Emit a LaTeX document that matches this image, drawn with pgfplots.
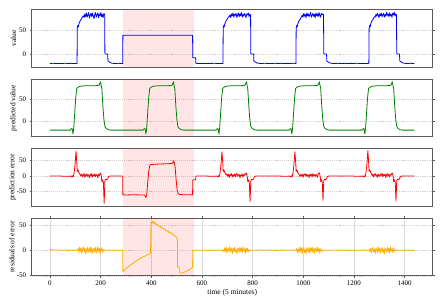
\documentclass[border=0pt]{standalone}
\usepackage{fontspec}
\setmainfont{Liberation Serif}
\usepackage{pgfplots}
\pgfplotsset{compat=1.18}
\definecolor{cblue}{RGB}{0,0,255}
\definecolor{cgreen}{RGB}{0,128,0}
\definecolor{cred}{RGB}{255,0,0}
\definecolor{corange}{RGB}{255,173,0}
\definecolor{frame}{RGB}{90,90,90}
\pgfplotsset{
 panel/.style={width=401pt,height=57.3pt,scale only axis,xmin=-72,xmax=1511,
  axis line style={frame,line width=0.7pt},tick style={frame,line width=0.5pt},
  tick align=outside,major tick length=2pt,ytick={-50,0,50},ymajorgrids,
  major grid style={gray!35,dash pattern=on 1.2pt off 0.9pt,line width=0.4pt},
  every tick label/.append style={font=\fontsize{7}{8}\selectfont},
  label style={font=\fontsize{7.5}{9}\selectfont},
  /pgf/number format/assume math mode=true,/pgf/number format/1000 sep={},anchor=south west,
  xtick=\empty},
 shadeplot/.style={draw=none,fill=red,fill opacity=0.1,forget plot},
 dline/.style={line width=0.8pt,line join=round},
}
\begin{document}
\begin{tikzpicture}
\useasboundingbox (0,0) rectangle (443pt,295pt);
% ---------- panel 1: value
\begin{axis}[panel,at={(31.7pt,228pt)},ymin=-28,ymax=95,ylabel={value},ylabel style={at={(axis description cs:-0.0454,0.5)},anchor=center}]
\addplot[shadeplot] coordinates {(287,-28)(567,-28)(567,95)(287,95)};
\addplot[cblue,dline] coordinates {
(0,-20.5)(12,-20)(24,-20.8)(36,-20.2)(48,-20.6)(60,-19.9)(72,-20.4)(84,-20.1)(96,-20.7)(107,-20.2)
(108,55)(110,61)(112,58)(114,64)(117,68)(120,72)(123,74)(126,77)(129,80)
(132,82)(135,78)(138,86)(141,80)(144,88)(147,79)(150,84)(153,89)(156,77)(159,83)(162,87)(165,80)(168,88)(171,81)(174,76)(177,85)(180,89)(183,79)(186,84)(189,88)(192,78)(195,86)(198,82)(201,89)(204,80)(207,85)(210,78)(213,87)
(216,84)(217,0)(228,0)(229,-15)(234,-17)(240,-19)(246,-20)(258,-20.6)(270,-20.1)(287,-20.4)
(288,40)(563,40)(564,-8)(575,-8)
(576,-20)(588,-20.6)(600,-20.1)(612,-20.7)(624,-20.2)(636,-20.5)(648,-19.9)(660,-20.4)(672,-20.2)(683,-20.6)
(684,55)(686,61)(688,58)(690,64)(693,68)(696,72)(699,74)(702,77)(705,80)
(708,80)(711,84)(714,78)(717,86)(720,82)(723,88)(726,79)(729,85)(732,83)(735,87)(738,78)(741,84)(744,88)(747,80)(750,86)(753,82)(756,89)(759,79)(762,85)(765,81)(768,87)(771,83)(774,78)(777,86)(780,84)(783,88)(786,80)(789,85)
(792,84)(793,0)(804,0)(805,-15)(810,-17)(816,-19)(822,-20)(834,-20.5)(846,-20)(863,-20.4)
(864,-20.2)(876,-20.6)(888,-20)(900,-20.5)(912,-20.1)(924,-20.7)(936,-20.2)(948,-20.5)(960,-20)(971,-20.4)
(972,55)(974,61)(976,58)(978,64)(981,68)(984,72)(987,74)(990,77)(993,80)
(996,83)(999,79)(1002,87)(1005,81)(1008,85)(1011,78)(1014,88)(1017,82)(1020,86)(1023,80)(1026,84)(1029,89)(1032,79)(1035,83)(1038,87)(1041,81)(1044,85)(1047,78)(1050,88)(1053,82)(1056,86)(1059,80)(1062,89)(1065,83)(1068,79)(1071,87)(1074,84)(1077,86)
(1080,84)(1081,0)(1092,0)(1093,-15)(1098,-17)(1104,-19)(1110,-20)(1122,-20.6)(1134,-20.1)(1151,-20.3)
(1152,-20.5)(1164,-20.1)(1176,-20.6)(1188,-20.2)(1200,-20.4)(1212,-19.9)(1224,-20.6)(1236,-20.2)(1248,-20.5)(1259,-20.1)
(1260,55)(1262,61)(1264,58)(1266,64)(1269,68)(1272,72)(1275,74)(1278,77)(1281,80)
(1284,79)(1287,85)(1290,81)(1293,87)(1296,83)(1299,78)(1302,86)(1305,82)(1308,88)(1311,80)(1314,84)(1317,87)(1320,79)(1323,85)(1326,81)(1329,89)(1332,83)(1335,86)(1338,80)(1341,88)(1344,82)(1347,85)(1350,79)(1353,87)(1356,84)(1359,90)(1362,81)(1365,86)
(1368,84)(1369,0)(1380,0)(1381,-15)(1386,-17)(1392,-19)(1398,-20)(1410,-20.5)(1422,-20.1)(1439,-20.4)
};
\end{axis}
% ---------- panel 2: predicted value
\begin{axis}[panel,at={(31.7pt,158.3pt)},ymin=-35,ymax=95.5,ylabel={predicted value},ylabel style={at={(axis description cs:-0.0454,0.5)},anchor=center}]
\addplot[shadeplot] coordinates {(287,-35)(567,-35)(567,95.5)(287,95.5)};
\addplot[cgreen,dline] coordinates {
(0,-20)(80,-20)(83,-17.5)(87,-16.5)(89,-20)(91,-29)(94,-15)(98,20)(102,55)(106,75)(112,78)(120,80)(140,81)(170,81)(190,81.5)(195,83)(198,88)(200,90)(202,82)(205,74)(209,35)(213,5)(217,-12)(222,-16)(230,-19)(240,-20)
(368,-20)(371,-17.5)(375,-16.5)(377,-20)(379,-29)(382,-15)(386,20)(390,55)(394,75)(400,78)(408,80)(428,81)(458,81)(478,81.5)(483,83)(486,88)(488,90)(490,82)(493,74)(497,35)(501,5)(505,-12)(510,-16)(518,-19)(528,-20)
(656,-20)(659,-17.5)(663,-16.5)(665,-20)(667,-29)(670,-15)(674,20)(678,55)(682,75)(688,78)(696,80)(716,81)(746,81)(766,81.5)(771,83)(774,88)(776,90)(778,82)(781,74)(785,35)(789,5)(793,-12)(798,-16)(806,-19)(816,-20)
(944,-20)(947,-17.5)(951,-16.5)(953,-20)(955,-29)(958,-15)(962,20)(966,55)(970,75)(976,78)(984,80)(1004,81)(1034,81)(1054,81.5)(1059,83)(1062,88)(1064,90)(1066,82)(1069,74)(1073,35)(1077,5)(1081,-12)(1086,-16)(1094,-19)(1104,-20)
(1232,-20)(1235,-17.5)(1239,-16.5)(1241,-20)(1243,-29)(1246,-15)(1250,20)(1254,55)(1258,75)(1264,78)(1272,80)(1292,81)(1322,81)(1342,81.5)(1347,83)(1350,88)(1352,90)(1354,82)(1357,74)(1361,35)(1365,5)(1369,-12)(1374,-16)(1382,-19)(1392,-20)(1439,-20)
};
\end{axis}
% ---------- panel 3: prediction error
\begin{axis}[panel,at={(31.7pt,89pt)},ymin=-96,ymax=88,ylabel={prediction error},ylabel style={at={(axis description cs:-0.0474,0.5)},anchor=center}]
\addplot[shadeplot] coordinates {(287,-96)(567,-96)(567,88)(287,88)};
\addplot[cred,dline] coordinates {
(0,0)(30,0.5)(60,-0.5)(84,0)(87,-3)(90,1)(92,-2)(95,8)(99,35)(103,80)(106,45)(108,15)(111,20)(114,12)(117,8)
(120,5)(123,0)(126,6)(129,-2)(132,4)(135,8)(138,-4)(141,3)(144,7)(147,-1)(150,5)(153,2)(156,-5)(159,6)(162,1)(165,8)(168,-3)(171,4)(174,0)(177,7)(180,-2)(183,5)(186,3)(189,-6)(192,6)(195,2)(198,9)
(200,10)(203,-2)(205,-18)(208,-12)(211,-20)(214,-87)(217,-15)(220,-10)(224,-12)(228,-8)(231,-2)(235,0)(260,0.5)(287,0)
(288,-60)(300,-60.5)(330,-60)(360,-60.5)(372,-61)(376,-64)(379,-68)(382,-60)(386,-20)(390,15)(394,33)(398,37)(410,38)(440,39)(470,40)(480,40.5)(484,42)(487,47)(489,49)(491,42)(494,30)(498,-10)(502,-45)(506,-56)(512,-59)(530,-60)(563,-60)(564,-12)(575,-12)
(576,0)(606,0.5)(636,-0.5)(660,0)(663,-3)(666,1)(668,-2)(671,8)(675,35)(679,78)(682,45)(684,15)(687,20)(690,12)(693,8)
(696,3)(699,7)(702,-1)(705,5)(708,-4)(711,6)(714,2)(717,8)(720,-3)(723,4)(726,0)(729,7)(732,-2)(735,5)(738,9)(741,-1)(744,3)(747,6)(750,-5)(753,4)(756,1)(759,7)(762,-3)(765,5)(768,2)(771,8)(774,6)
(776,10)(779,-2)(781,-18)(784,-12)(787,-20)(790,-82)(793,-15)(796,-10)(800,-12)(804,-8)(807,-2)(811,0)(840,0.5)
(864,0)(894,0.5)(924,-0.5)(948,0)(951,-3)(954,1)(956,-2)(959,8)(963,35)(967,78)(970,45)(972,15)(975,20)(978,12)(981,8)
(984,6)(987,-2)(990,4)(993,1)(996,7)(999,-4)(1002,5)(1005,3)(1008,8)(1011,-1)(1014,6)(1017,0)(1020,4)(1023,-5)(1026,7)(1029,2)(1032,5)(1035,-3)(1038,8)(1041,1)(1044,4)(1047,-2)(1050,6)(1053,3)(1056,-4)(1059,7)(1062,10)
(1064,10)(1067,-2)(1069,-18)(1072,-12)(1075,-20)(1078,-78)(1081,-15)(1084,-10)(1088,-12)(1092,-8)(1095,-2)(1099,0)(1125,0.5)
(1152,0)(1182,0.5)(1212,-0.5)(1236,0)(1239,-3)(1242,1)(1244,-2)(1247,8)(1251,35)(1255,82)(1258,45)(1260,15)(1263,20)(1266,12)(1269,8)
(1272,2)(1275,6)(1278,-3)(1281,5)(1284,8)(1287,0)(1290,4)(1293,-4)(1296,7)(1299,3)(1302,-1)(1305,6)(1308,2)(1311,9)(1314,-2)(1317,5)(1320,1)(1323,7)(1326,-5)(1329,4)(1332,8)(1335,0)(1338,5)(1341,-3)(1344,6)(1347,4)(1350,9)
(1352,10)(1355,-2)(1357,-18)(1360,-12)(1363,-20)(1366,-80)(1369,-15)(1372,-10)(1376,-12)(1380,-8)(1383,-2)(1387,0)(1410,0.5)(1439,0)
};
\end{axis}
% ---------- panel 4: residuals of error
\begin{axis}[panel,at={(31.7pt,19.3pt)},ymin=-50,ymax=63,ylabel={residuals of error},ylabel style={at={(axis description cs:-0.0499,0.5)},anchor=center},
  xtick={0,200,...,1400},xmajorgrids,xlabel={time (5 minutes)},
  xlabel style={at={(axis description cs:0.5,0)},anchor=center,yshift=-16.6pt},
  x grid style={gray!30,solid,line width=0.4pt}]
\addplot[shadeplot] coordinates {(287,-50)(567,-50)(567,63)(287,63)};
\addplot[corange,dline] coordinates {
(0,2)(15,0.5)(30,1)(45,0)(60,0.8)(75,-0.3)(90,0.5)(105,0)(108,1)
(111,3)(114,-4)(117,6)(120,-2)(123,5)(126,-6)(129,2)(132,7)(135,-3)(138,4)(141,-7)(144,1)(147,6)(150,-5)(153,3)(156,-2)(159,7)(162,-4)(165,5)(168,-6)(171,2)(174,4)(177,-3)(180,6)(183,-5)(186,1)(189,7)(192,-2)(195,4)(198,-6)(201,3)(204,5)(207,-4)(210,2)(213,-1)
(216,1)(230,0.3)(250,0)(270,0.5)(287,0)
(288,-42)(300,-36)(320,-28)(340,-21)(360,-15)(380,-10)(397,-6)(399,55)(402,53)(405,57)(408,54)(411,56)(414,52)(417,54)(420,50)(425,51)(430,47)(435,48)(440,44)(445,45)(450,41)(455,42)(460,38)(465,39)(470,35)(475,36)(480,32)(485,33)(490,29)(495,28)(500,25)(503,22)(504,-33)(512,-35)(513,-45)(520,-45)(530,-43)(540,-41)(550,-38)(563,-34)(564,0)
(576,0.5)(591,0)(606,0.8)(621,-0.3)(636,0.5)(651,0)(666,0.6)(681,-0.2)(684,1)
(687,-3)(690,5)(693,-2)(696,6)(699,-5)(702,3)(705,-1)(708,7)(711,-4)(714,2)(717,5)(720,-6)(723,4)(726,-2)(729,6)(732,-3)(735,1)(738,-7)(741,5)(744,3)(747,-4)(750,6)(753,-2)(756,4)(759,-5)(762,7)(765,-1)(768,3)(771,-6)(774,5)(777,-2)(780,4)(783,-3)(786,1)(789,0)
(792,0.5)(810,0)(830,0.8)(850,0.2)(870,0.6)(890,-0.2)(910,0.5)(930,0)(950,0.7)(971,0)
(972,1)(975,4)(978,-5)(981,2)(984,-3)(987,7)(990,-2)(993,5)(996,-6)(999,3)(1002,6)(1005,-4)(1008,1)(1011,-7)(1014,5)(1017,2)(1020,-3)(1023,6)(1026,-5)(1029,4)(1032,-1)(1035,7)(1038,-4)(1041,3)(1044,-6)(1047,5)(1050,2)(1053,-3)(1056,6)(1059,-2)(1062,4)(1065,-5)(1068,3)(1071,1)(1074,-2)(1077,0)
(1080,0.5)(1100,0)(1120,0.8)(1140,0.2)(1160,0.6)(1180,-0.2)(1200,0.5)(1220,0)(1240,0.7)(1259,0)
(1260,1)(1263,-2)(1266,4)(1269,-5)(1272,3)(1275,6)(1278,-3)(1281,2)(1284,-6)(1287,5)(1290,1)(1293,-4)(1296,7)(1299,-2)(1302,4)(1305,-5)(1308,3)(1311,6)(1314,-4)(1317,2)(1320,-7)(1323,5)(1326,1)(1329,-3)(1332,6)(1335,-2)(1338,4)(1341,-5)(1344,7)(1347,-1)(1350,3)(1353,-4)(1356,5)(1359,-2)(1362,1)(1365,0)
(1368,0.5)(1390,0)(1410,0.6)(1425,-0.2)(1439,0)
};
\end{axis}
\end{tikzpicture}
\end{document}
